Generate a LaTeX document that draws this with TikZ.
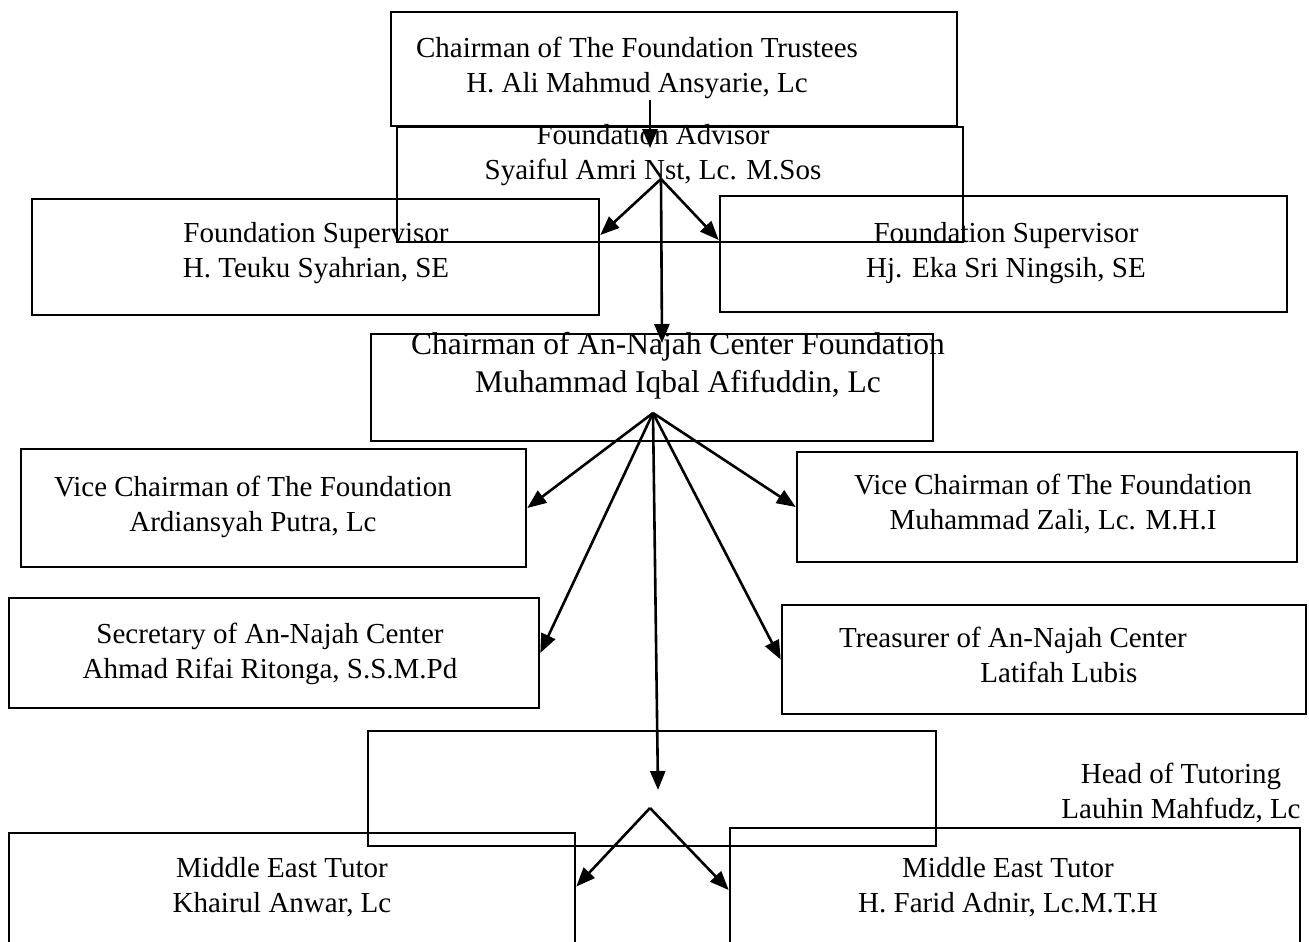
\documentclass[tikz,border=0pt]{standalone}
\usepackage{fontspec}
\setmainfont{Liberation Serif}
\usetikzlibrary{arrows.meta}

\begin{document}
\begin{tikzpicture}[x=1pt, y=-1pt, line width=2.6pt, >={Triangle[length=19pt, width=15pt]},
  box/.style={draw, rectangle, inner sep=0pt},
  txt/.style={align=center, inner sep=0pt, font=\fontsize{29}{35.5}\selectfont}]
  \useasboundingbox (0,0) rectangle (1309,942);
  \clip (0,0) rectangle (1309,942);
  % boxes: name/left/top/right/bottom
  \foreach \n/\xa/\ya/\xb/\yb in {trustee/391/12/957/126, advisor/397/127/963/242,
      supL/32/199/599/315, supR/720/196/1287/312, chair/371/334/933/441,
      viceL/21/449/526/567, viceR/797/452/1297/562, secr/9/598/539/708,
      treas/782/605/1306/714, tutoring/368/731/936/846,
      tutorL/9/833/575/960, tutorR/730/828/1300/960} {
    \node[box, minimum width={(\xb-\xa)*1pt}, minimum height={(\yb-\ya)*1pt}]
      (\n) at ({(\xa+\xb)/2},{(\ya+\yb)/2}) {};
  }
  % texts
  \node[txt] (trusteeT) at (637,68) {Chairman of The Foundation Trustees\\H. Ali Mahmud Ansyarie, Lc};
  \node[txt] (advisorT) at (653,155) {Foundation Advisor\\Syaiful Amri Nst, Lc. M.Sos};
  \node[txt] (supLT) at (316,253) {Foundation Supervisor\\H. Teuku Syahrian, SE};
  \node[txt] (supRT) at (1006,253) {Foundation Supervisor\\Hj. Eka Sri Ningsih, SE};
  \node[txt, font=\fontsize{31.5}{37.5}\selectfont] (chairT) at (678,366)
    {Chairman of An-Najah Center Foundation\\Muhammad Iqbal Afifuddin, Lc};
  \node[txt] (viceLT) at (253,507) {Vice Chairman of The Foundation\\Ardiansyah Putra, Lc};
  \node[txt] (viceRT) at (1053,504) {Vice Chairman of The Foundation\\Muhammad Zali, Lc. M.H.I};
  \node[txt] (secrT) at (270,654) {Secretary of An-Najah Center\\Ahmad Rifai Ritonga, S.S.M.Pd};
  \node[txt] (treasT) at (1013,655) {Treasurer of An-Najah Center\\\hspace*{92pt}Latifah Lubis};
  \node[txt] (tutoringT) at (1181,793) {Head of Tutoring\\Lauhin Mahfudz, Lc};
  \node[txt] (tutorLT) at (282,887) {Middle East Tutor\\Khairul Anwar, Lc};
  \node[txt] (tutorRT) at (1008,887) {Middle East Tutor\\H. Farid Adnir, Lc.M.T.H};
  % arrows
  \coordinate (trustFoot) at (650,100);
  \coordinate (advHead) at (650,148);
  \coordinate (advFork) at (661,179);
  \coordinate (chairHead) at (662,343);
  \coordinate (chairFork) at (653,413);
  \coordinate (tutHead) at (658,790);
  \coordinate (tutFork) at (650,808);
  \draw[->] (trustFoot) -- (advHead);
  \draw[->] (advFork) -- ([yshift=22pt]supL.east);
  \draw[->] (advFork) -- ([yshift=14pt]supR.west);
  \draw[->] (advFork) -- (chairHead);
  \foreach \t in {viceL.east, secr.east, treas.west, viceR.west}
    \draw[->] (chairFork) -- (\t);
  \draw[->] (chairFork) -- (tutHead);
  \draw[->] (tutFork) -- ([yshift=10pt]tutorL.east);
  \draw[->] (tutFork) -- ([yshift=4pt]tutorR.west);
\end{tikzpicture}
\end{document}
